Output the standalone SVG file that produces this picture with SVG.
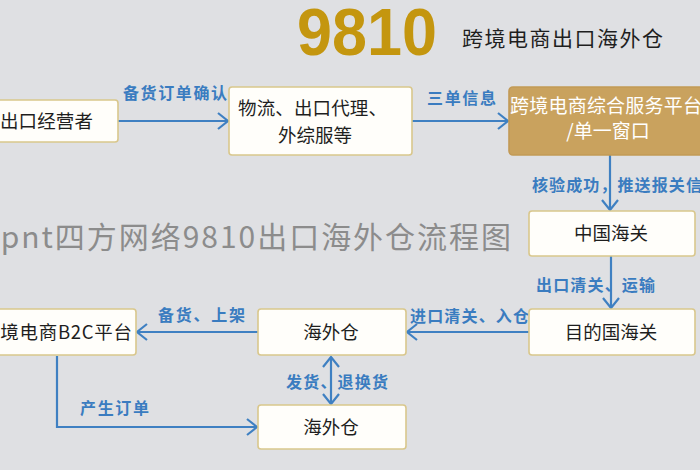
<svg xmlns="http://www.w3.org/2000/svg" width="700" height="470" viewBox="0 0 700 470">
<defs>
<style>
.bg{fill:#dfe0e3}
.box{fill:#fffefa;stroke:#d9c78c;stroke-width:1.6}
.gold{fill:#c9a25e;stroke:#c29a56;stroke-width:1.6}
.nt{font-family:"Noto Sans CJK SC","Noto Sans",sans-serif;font-size:18.5px;fill:#1e1e1e}
.wt{font-family:"Noto Sans CJK SC","Noto Sans",sans-serif;font-size:19px;fill:#ffffff}
.lb{font-family:"Noto Sans CJK SC","Noto Sans",sans-serif;font-size:16px;font-weight:bold;fill:#3a7cc0}
.ln{fill:none;stroke:#3f80c2;stroke-width:2.2}
</style>
<marker id="arr" markerWidth="14" markerHeight="18" refX="12" refY="9" orient="auto-start-reverse" markerUnits="userSpaceOnUse">
<path d="M2,1 L12,9 L2,17" fill="none" stroke="#3f80c2" stroke-width="2.2"/>
</marker>
</defs>
<rect class="bg" x="0" y="0" width="700" height="470"/>

<g id="title">
<text x="297" y="55" font-family="Liberation Sans, Arial, sans-serif" font-weight="bold" font-size="66" fill="#c4960f" textLength="140" lengthAdjust="spacingAndGlyphs">9810</text>
<text x="462" y="46" font-family="Noto Sans CJK SC, sans-serif" font-size="21" fill="#1e1e1e" textLength="201">跨境电商出口海外仓</text>
</g>

<g id="watermark">
<text x="-18" y="248" font-family="Noto Sans CJK SC, Noto Sans, sans-serif" font-size="30" fill="#8c8c8c" textLength="529">4pnt四方网络9810出口海外仓流程图</text>
</g>

<g id="connectors">
<line class="ln" x1="118" y1="121" x2="228" y2="121" marker-end="url(#arr)"/>
<line class="ln" x1="412" y1="121" x2="508" y2="121" marker-end="url(#arr)"/>
<line class="ln" x1="610" y1="155" x2="610" y2="210" marker-end="url(#arr)"/>
<line class="ln" x1="611" y1="256" x2="611" y2="308" marker-end="url(#arr)"/>
<line class="ln" x1="529" y1="332" x2="407" y2="332" marker-end="url(#arr)"/>
<line class="ln" x1="258" y1="332" x2="137" y2="332" marker-end="url(#arr)"/>
<polyline class="ln" points="57,356 57,427 257,427" marker-end="url(#arr)"/>
<line class="ln" x1="331" y1="357" x2="331" y2="404" marker-start="url(#arr)" marker-end="url(#arr)"/>
<text class="lb" x="123" y="99" textLength="104">备货订单确认</text>
<text class="lb" x="427" y="104" textLength="69">三单信息</text>
<text class="lb" x="532" y="191" textLength="187">核验成功，推送报关信息</text>
<text class="lb" x="536" y="291" textLength="119">出口清关、运输</text>
<text class="lb" x="410" y="322" textLength="119">进口清关、入仓</text>
<text class="lb" x="158" y="321" textLength="87">备货、上架</text>
<text class="lb" x="286" y="388" textLength="102">发货、退换货</text>
<text class="lb" x="80" y="414" textLength="69">产生订单</text>
</g>

<g id="n-exporter">
<rect class="box" x="-10" y="100" width="128" height="42" rx="3"/>
<text class="nt" x="0" y="128" textLength="93">出口经营者</text>
</g>

<g id="n-logistics">
<rect class="box" x="229" y="87" width="183" height="68" rx="3"/>
<text class="nt" x="238" y="115" textLength="149">物流、出口代理、</text>
<text class="nt" x="315" y="142" text-anchor="middle">外综服等</text>
</g>

<g id="n-platform">
<rect class="gold" x="509" y="87" width="205" height="68" rx="4"/>
<text class="wt" x="510" y="113" textLength="192">跨境电商综合服务平台</text>
<text class="wt" x="608" y="138" text-anchor="middle">/单一窗口</text>
</g>

<g id="n-china-customs">
<rect class="box" x="529" y="211" width="166" height="45" rx="3"/>
<text class="nt" x="611" y="240" text-anchor="middle">中国海关</text>
</g>

<g id="n-dest-customs">
<rect class="box" x="529" y="309" width="166" height="46" rx="3"/>
<text class="nt" x="611" y="339" text-anchor="middle">目的国海关</text>
</g>

<g id="n-warehouse">
<rect class="box" x="258" y="309" width="148" height="46" rx="3"/>
<text class="nt" x="331" y="339" text-anchor="middle">海外仓</text>
</g>

<g id="n-b2c">
<rect class="box" x="-30" y="309" width="166" height="46" rx="3"/>
<text class="nt" x="-19" y="339" textLength="151">跨境电商B2C平台</text>
</g>

<g id="n-warehouse2">
<rect class="box" x="258" y="405" width="148" height="44" rx="3"/>
<text class="nt" x="331" y="434" text-anchor="middle">海外仓</text>
</g>
</svg>
